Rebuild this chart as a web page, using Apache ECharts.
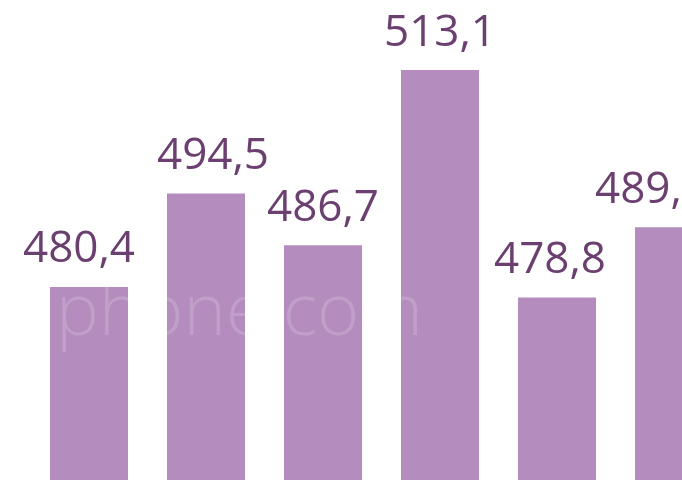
<!DOCTYPE html>
<html>
<head>
<meta charset="utf-8">
<script src="https://cdn.jsdelivr.net/npm/echarts@6/dist/echarts.min.js"></script>
<style>html,body{margin:0;padding:0;background:#fff;}#c{width:682px;height:480px;}</style>
</head>
<body>
<div id="c"></div>
<script>
var categories = ['1', '2', '3', '4', '5', '6'];
var values = [480.4, 494.5, 486.7, 513.1, 478.8, 489.4];
var labelTexts = ['480,4', '494,5', '486,7', '513,1', '478,8', '489,4'];

// horizontal nudge of each value label (layout only)
var labelNudgeX = [-10, 7, 0, 0, -7, -23];

var seriesData = values.map(function (v, i) {
  return {value: v, label: {offset: [labelNudgeX[i], 0]}};
});

var chart = echarts.init(document.getElementById('c'), null, {renderer: 'canvas'});
chart.setOption({
  backgroundColor: '#ffffff',
  animation: false,
  grid: {left: 30.5, top: 0, right: -50.5, bottom: 0, containLabel: false, outerBoundsMode: 'none'},
  xAxis: {type: 'category', data: categories, show: false},
  yAxis: {type: 'value', min: 451.3, max: 523.65, show: false},
  series: [{
    type: 'bar',
    data: seriesData,
    barWidth: 78,
    itemStyle: {color: '#b48dbe'},
    label: {
      show: true,
      position: 'top',
      distance: 15,
      fontFamily: 'Open Sans',
      fontSize: 44,
      color: '#6b3f70',
      formatter: function (p) { return labelTexts[p.dataIndex]; }
    }
  }],
  graphic: [{
    type: 'text',
    left: 56,
    top: 278,
    z: 100,
    style: {
      text: 'phone.com',
      font: '300 72px "Open Sans"',
      fill: 'rgba(255,255,255,0.16)'
    }
  }]
});
</script>
</body>
</html>
